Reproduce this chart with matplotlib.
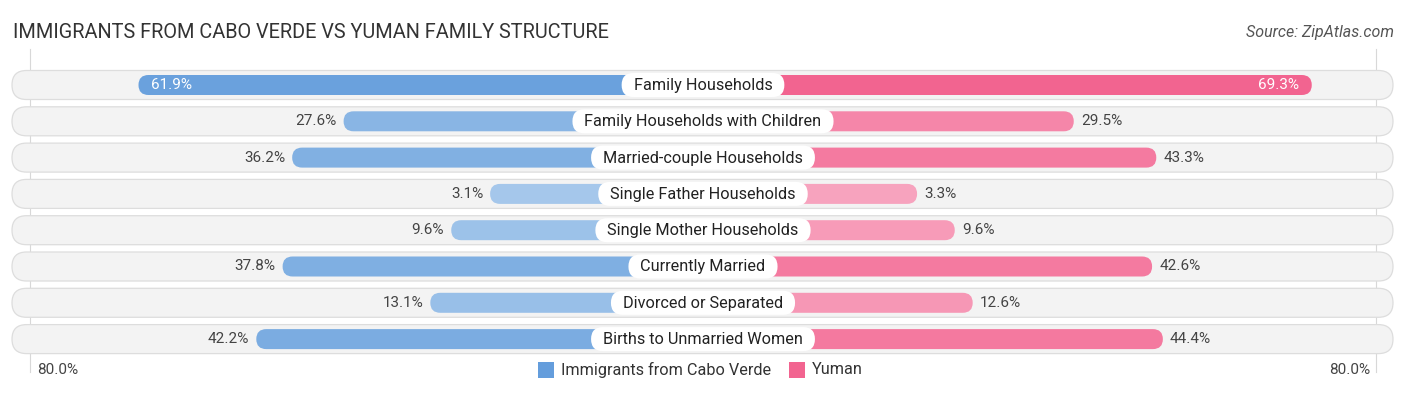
import matplotlib
matplotlib.use("Agg")
import matplotlib.pyplot as plt
from matplotlib.patches import FancyBboxPatch
import numpy as np

# ---- data ----
categories = ["Family Households", "Family Households with Children",
              "Married-couple Households", "Single Father Households",
              "Single Mother Households", "Currently Married",
              "Divorced or Separated", "Births to Unmarried Women"]
cabo_verde = [61.9, 27.6, 36.2, 3.1, 9.6, 37.8, 13.1, 42.2]
yuman = [69.3, 29.5, 43.3, 3.3, 9.6, 42.6, 12.6, 44.4]
series_names = ["Immigrants from Cabo Verde", "Yuman"]
axis_max = 80.0
title = "IMMIGRANTS FROM CABO VERDE VS YUMAN FAMILY STRUCTURE"
source = "Source: ZipAtlas.com"

# ---- layout ----
W, H = 1406, 395
DPI = 100
PX_PER_UNIT = 5.98          # pixels per percentage point
CENTER_PX = 703
OFFSET = 32.5               # bar length offset (behind the label) in % units
ROW0_PX, ROW_STEP_PX = 85, 36.3
BAR_H_PX, PILL_H_PX, LABEL_H_PX = 20, 29, 24

fig = plt.figure(figsize=(W / DPI, H / DPI), dpi=DPI)
ax = fig.add_axes([0, 0, 1, 1])
ax.set_xlim(-CENTER_PX / PX_PER_UNIT, (W - CENTER_PX) / PX_PER_UNIT)
ax.set_ylim((H - ROW0_PX) / ROW_STEP_PX, -ROW0_PX / ROW_STEP_PX)
ax.axis("off")

ux = 1 / PX_PER_UNIT     # x data units per pixel
uy = 1 / ROW_STEP_PX     # y data units per pixel
aspect = uy / ux

font = "Roboto"
blue_dark = np.array([0x64, 0x9d, 0xdc]) / 255
blue_light = np.array([0xab, 0xcb, 0xec]) / 255
pink_dark = np.array([0xf2, 0x64, 0x90]) / 255
pink_light = np.array([0xf8, 0xa9, 0xc2]) / 255
vmax = max(max(cabo_verde), max(yuman))


def shade(light, dark, v):
    t = min(1.0, v / vmax) ** 0.8
    return tuple(light + (dark - light) * t)


def rbox(x0, y0, w, h, fc, ec="none", lw=0, z=1):
    r = h / aspect / 2
    p = FancyBboxPatch((x0, y0), w, h,
                       boxstyle=f"round,pad=0,rounding_size={r}",
                       mutation_aspect=aspect, fc=fc, ec=ec, lw=lw, zorder=z)
    ax.add_patch(p)


# gridlines at +-80%
edge = OFFSET + axis_max
for xv in (-edge, edge):
    ax.plot([xv, xv], [-1.0, len(categories) - 0.1], color="#d8d8d8", lw=0.8, zorder=0)

fig.canvas.draw()
renderer = fig.canvas.get_renderer()

pill_left = (12 - CENTER_PX) * ux
pill_right = (1393 - CENTER_PX) * ux
for i, cat in enumerate(categories):
    ph = PILL_H_PX * uy
    rbox(pill_left, i - ph / 2, pill_right - pill_left, ph, "#f3f3f3", "#dddddd", 0.9, 1)

    bh = BAR_H_PX * uy
    lv, rv = cabo_verde[i], yuman[i]
    ll = OFFSET + lv
    rl = OFFSET + rv
    rbox(-ll, i - bh / 2, ll, bh, shade(blue_light, blue_dark, lv), z=2)
    rbox(0, i - bh / 2, rl, bh, shade(pink_light, pink_dark, rv), z=2)

    t = ax.text(0, i + 0.5 * uy, cat, ha="center", va="center", fontsize=11.7,
                family=font, color="#222222", zorder=5)
    tw_px = t.get_window_extent(renderer).width
    lw_units = (tw_px + 24) * ux
    lh = LABEL_H_PX * uy
    rbox(-lw_units / 2, i - lh / 2, lw_units, lh, "white", z=4)

    if i == 0:
        ax.text(-ll + 13 * ux, i, f"{lv:.1f}%", ha="left", va="center",
                fontsize=11, family=font, color="white", zorder=6)
        ax.text(rl - 13 * ux, i, f"{rv:.1f}%", ha="right", va="center",
                fontsize=11, family=font, color="white", zorder=6)
    else:
        ax.text(-ll - 7 * ux, i, f"{lv:.1f}%", ha="right", va="center",
                fontsize=11, family=font, color="#444444", zorder=6)
        ax.text(rl + 7 * ux, i, f"{rv:.1f}%", ha="left", va="center",
                fontsize=11, family=font, color="#444444", zorder=6)

# title & source
fig.text(13 / W, 1 - 33 / H, title, ha="left", va="center", fontsize=14.3,
         family=font, color="#333333")
fig.text(1394 / W, 1 - 33 / H, source, ha="right", va="center", fontsize=11.5,
         family=font, style="italic", color="#555555")

# bottom axis labels
ly = 1 - 370 / H
fig.text(37 / W, ly, f"{axis_max:.1f}%", ha="left", va="center", fontsize=11,
         family=font, color="#444444")
fig.text(1370 / W, ly, f"{axis_max:.1f}%", ha="right", va="center", fontsize=11,
         family=font, color="#444444")

# legend
sq = 16
for name, col, x0 in [(series_names[0], tuple(blue_dark), 538),
                      (series_names[1], tuple(pink_dark), 789)]:
    fig.patches.append(matplotlib.patches.Rectangle(
        (x0 / W, 1 - (370 + sq / 2) / H), sq / W, sq / H, transform=fig.transFigure,
        fc=col, ec="none"))
    fig.text((x0 + sq + 7) / W, ly, name, ha="left", va="center", fontsize=11.7,
             family=font, color="#333333")

fig.savefig("out.png", dpi=DPI)
